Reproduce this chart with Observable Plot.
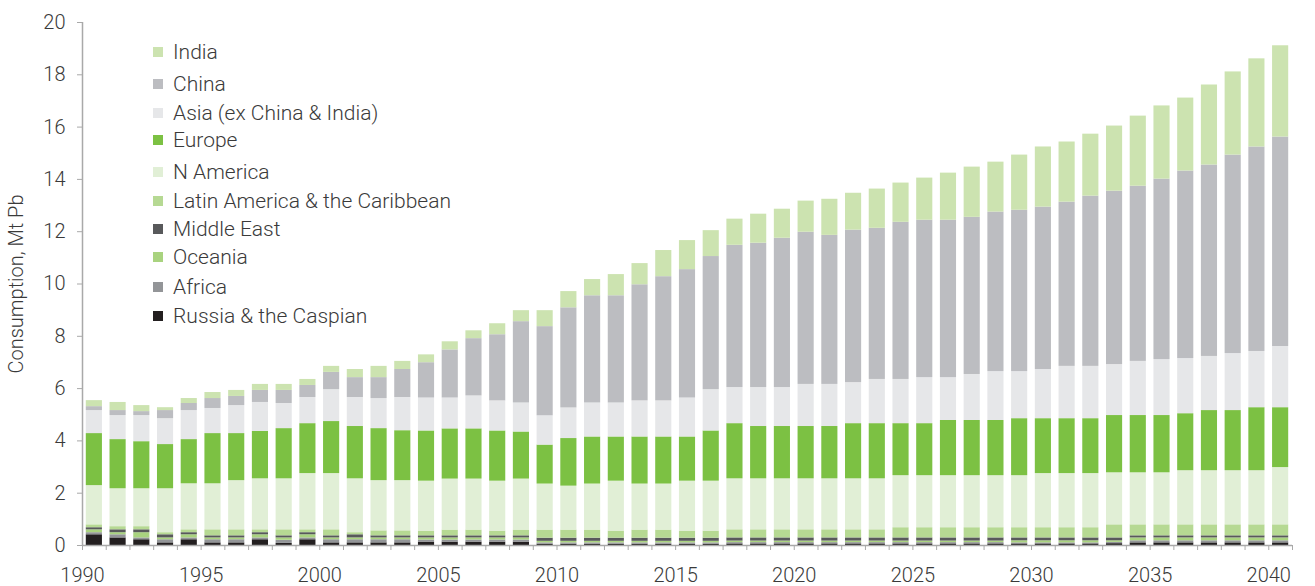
<!DOCTYPE html>
<html>
<head>
<meta charset="utf-8">
<script src="https://cdn.jsdelivr.net/npm/d3@7"></script>
<script src="https://cdn.jsdelivr.net/npm/@observablehq/plot@0.6"></script>
<style>
  html, body { margin: 0; padding: 0; background: #fff; }
  #wrap { position: relative; width: 1315px; height: 586px; font-family: Roboto, "Open Sans", sans-serif; font-weight: 300; color: #3a3a3a; }
  .lg { position: absolute; left: 153px; display: flex; align-items: center; font-size: 21px; white-space: nowrap; }
  .lg span.sw { display: inline-block; width: 10px; height: 10px; margin-right: 10px; }
  svg text { font-weight: 300; }
</style>
</head>
<body>
<div id="wrap"></div>
<script>
// ---- data ----
const years = [1990,1991,1992,1993,1994,1995,1996,1997,1998,1999,
               2000,2001,2002,2003,2004,2005,2006,2007,2008,2009,
               2010,2011,2012,2013,2014,2015,2016,2017,2018,2019,
               2020,2021,2022,2023,2024,2025,2026,2027,2028,2029,
               2030,2031,2032,2033,2034,2035,2036,2037,2038,2039,2040];
const yTicks = [0,2,4,6,8,10,12,14,16,18,20];
const xLabelYears = [1990,1995,2000,2005,2010,2015,2020,2025,2030,2035,2040];

// series, bottom of stack first
const seriesNames = ["Russia & the Caspian","Africa","Oceania","Middle East","Latin America & the Caribbean","N America","Europe","Asia (ex China & India)","China","India"];
const seriesColors = ["#231f20","#939598","#a9d37f","#58595b","#b6d993","#e1efd6","#7cc143","#e6e7e9","#bcbdc1","#cce3b0"];

const russia = [.41,.29,.22,.10,.22,.10,.10,.22,.08,.22, .10,.10,.10,.10,.13,.13,.13,.13,.13,.05, .05,.05,.05,.05,.05,.05,.05,.06,.06,.06, .06,.06,.06,.06,.06,.06,.06,.06,.06,.06, .06,.06,.06,.07,.10,.10,.10,.10,.10,.10,.10];
const africa = [.08,.12,.07,.12,.07,.12,.12,.07,.12,.07, .12,.12,.12,.12,.08,.08,.08,.08,.08,.05, .05,.05,.05,.05,.05,.05,.05,.05,.05,.05, .05,.05,.05,.05,.05,.05,.05,.05,.05,.04, .04,.04,.04,.05,.08,.08,.08,.08,.08,.08,.08];
const oceania = [.11,.08,.20,.07,.12,.07,.07,.12,.09,.12, .07,.07,.07,.07,.08,.08,.08,.08,.08,.06, .06,.06,.06,.06,.06,.06,.06,.06,.06,.06, .06,.06,.06,.06,.06,.06,.06,.06,.06,.08, .08,.08,.08,.06,.11,.11,.11,.11,.11,.11,.11];
const middleEast = [.08,.11,.11,.12,.08,.08,.08,.08,.08,.08, .08,.12,.08,.08,.08,.08,.08,.08,.08,.12, .12,.12,.12,.12,.12,.12,.12,.12,.12,.12, .12,.12,.12,.12,.12,.12,.12,.12,.12,.11, .11,.11,.11,.11,.08,.08,.08,.08,.08,.08,.08];
const latinAmerica = [.11,.12,.12,.08,.11,.23,.23,.11,.23,.11, .23,.08,.19,.19,.18,.22,.22,.18,.22,.31, .31,.31,.27,.31,.31,.27,.27,.31,.31,.31, .31,.31,.31,.31,.39,.39,.39,.39,.39,.39, .39,.39,.39,.50,.42,.42,.42,.42,.42,.42,.42];
const nAmerica = [1.50,1.45,1.45,1.68,1.76,1.76,1.88,1.95,1.95,2.15, 2.15,2.06,1.92,1.92,1.91,1.95,1.95,1.91,1.95,1.76, 1.68,1.76,1.91,1.76,1.76,1.91,1.91,1.95,1.95,1.95, 1.95,1.95,1.95,1.95,1.99,1.99,1.99,1.99,1.99,1.99, 2.07,2.07,2.07,1.99,1.99,1.99,2.07,2.07,2.07,2.07,2.19];
const europe = [1.99,1.88,1.80,1.69,1.69,1.92,1.80,1.81,1.92,1.91, 1.99,2.00,1.99,1.91,1.92,1.92,1.92,1.92,1.80,1.49, 1.82,1.80,1.69,1.80,1.80,1.69,1.92,2.11,2.00,2.00, 2.00,2.00,2.11,2.11,1.99,1.99,2.11,2.11,2.11,2.18, 2.10,2.10,2.10,2.19,2.19,2.19,2.18,2.30,2.30,2.41,2.29];
const asiaEx = [.88,.92,1.00,.99,1.11,.96,1.07,1.11,.96,1.00, 1.22,1.11,1.15,1.27,1.26,1.18,1.26,1.15,1.11,1.12, 1.17,1.30,1.30,1.38,1.38,1.49,1.58,1.38,1.49,1.49, 1.61,1.61,1.57,1.69,1.69,1.76,1.64,1.76,1.87,1.80, 1.88,2.00,2.00,1.95,2.07,2.14,2.11,2.07,2.18,2.15,2.34];
const china = [.15,.19,.15,.31,.27,.38,.35,.46,.50,.46, .66,.76,.80,1.07,1.35,1.84,2.19,2.53,3.11,3.41, 3.83,4.10,4.10,4.44,4.75,4.91,5.09,5.44,5.52,5.71, 5.82,5.70,5.83,5.78,6.01,6.02,6.02,6.01,6.10,6.17, 6.21,6.28,6.51,6.63,6.70,6.90,7.17,7.32,7.59,7.82,8.01];
const india = [.23,.31,.23,.11,.19,.23,.23,.23,.23,.23, .23,.31,.43,.31,.30,.31,.30,.42,.42,.61, .62,.62,.81,.81,1.00,1.11,.99,1.00,1.11,1.11, 1.19,1.38,1.41,1.50,1.50,1.61,1.80,1.92,1.91,2.11, 2.30,2.30,2.37,2.49,2.68,2.80,2.79,3.06,3.18,3.37,3.49];

const seriesValues = [russia, africa, oceania, middleEast, latinAmerica, nAmerica, europe, asiaEx, china, india];

// long table built from the arrays
const table = [];
seriesNames.forEach((name, s) => {
  years.forEach((yr, i) => table.push({year: yr, series: name, value: seriesValues[s][i]}));
});

// ---- layout ----
const W = 1315, H = 586;
const mL = 82, mR = 23, mT = 22, mB = 41;
const step = (W - mL - mR) / years.length;
const axisGray = "#a9a9a9";
const textCol = "#3a3a3a";

const chart = Plot.plot({
  width: W, height: H,
  marginTop: mT, marginBottom: mB, marginLeft: mL, marginRight: mR,
  style: {fontFamily: "Roboto, 'Open Sans', sans-serif", fontSize: "20px", color: textCol, background: "#fff"},
  x: {type: "band", domain: years, paddingInner: 0.32, paddingOuter: 0.16, axis: null},
  y: {domain: [0, 20], axis: null},
  color: {domain: seriesNames, range: seriesColors},
  marks: [
    Plot.barY(table, {x: "year", y: "value", fill: "series", order: seriesNames}),
    Plot.ruleY([0], {stroke: axisGray, strokeWidth: 1.5}),
    Plot.ruleX([years[0]], {y1: 0, y2: 20, dx: -step / 2, stroke: axisGray, strokeWidth: 1.5}),
    Plot.axisY({ticks: yTicks, tickSize: 5, tickPadding: 12, stroke: axisGray, fill: textCol, fontSize: 20,
                label: "Consumption, Mt Pb", labelAnchor: "center", labelArrow: "none", labelOffset: 74}),
    Plot.axisX({ticks: years, tickSize: 5, tickPadding: 17, dx: -step / 2, stroke: axisGray, fill: textCol, fontSize: 20,
                tickFormat: d => xLabelYears.includes(d) ? String(d) : "", label: null}),
    Plot.axisX({ticks: [years[years.length - 1]], tickSize: 5, dx: step / 2, stroke: axisGray,
                tickFormat: () => "", label: null})
  ]
});

const wrap = document.getElementById("wrap");
wrap.appendChild(chart);

// legend (top of stack listed first)
const legendNames = seriesNames.slice().reverse();
const legendCenters = [52, 84, 113, 140, 172, 201, 229, 257, 287, 316];
legendNames.forEach((name, i) => {
  const d = document.createElement("div");
  d.className = "lg";
  d.style.top = (legendCenters[i] - 13) + "px";
  d.style.height = "26px";
  const sw = document.createElement("span");
  sw.className = "sw";
  sw.style.background = seriesColors[seriesNames.indexOf(name)];
  d.appendChild(sw);
  d.appendChild(document.createTextNode(name));
  wrap.appendChild(d);
});
</script>
</body>
</html>
